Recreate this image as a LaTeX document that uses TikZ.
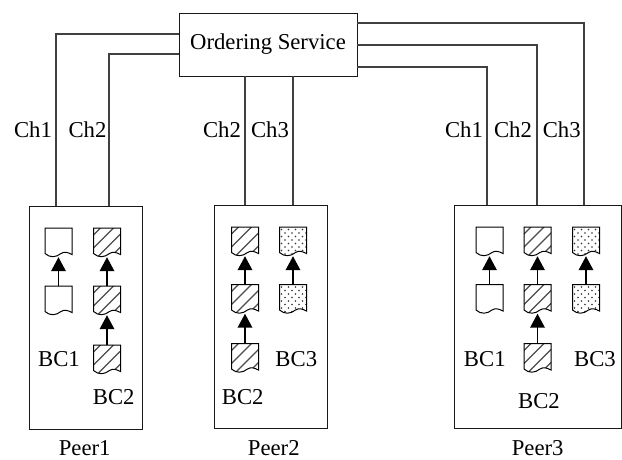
\documentclass[tikz,border=0pt]{standalone}
\usepackage{fontspec}
\setmainfont{Liberation Serif}
\usetikzlibrary{arrows.meta}
\definecolor{wirecol}{HTML}{404040}
\tikzset{
  lab/.style={anchor=base,inner sep=0pt,font=\fontsize{22.7}{24}\selectfont,text=black},
  wire/.style={draw=wirecol,line width=1.4pt},
  peerbox/.style={draw=black!90,line width=0.9pt,inner sep=0pt,rectangle},
  orderbox/.style={draw=black!90,line width=0.9pt,inner sep=0pt,rectangle,fill=white,font=\fontsize{22.7}{24}\selectfont},
  docbox/.style={inner sep=0pt,minimum width=27pt,minimum height=29pt,rectangle},
  link/.style={line width=1.9pt,-{Triangle[length=14pt,width=14.5pt]}},
  hatch/.style={line width=1.1pt,black!70},
  docline/.style={line width=1pt,black}
}
\newcommand{\docoutline}{(0,0) -- (27,0) -- (27,26.5) .. controls (22,24) and (19.5,23.5) .. (16,25.5) .. controls (11,29.5) and (5,30) .. (0,25.5) -- cycle}
% name, centre x, top y, kind (0 blank, 1 hatched, 2 dotted)
\newcommand{\mydoc}[4]{%
  \begin{scope}[shift={(#2-13.5,#3)}]
    \node[docbox] (#1) at (13.5,14.5) {};
    \fill[white] \docoutline;
    \begin{scope}
      \clip \docoutline;
      \ifcase#4\relax
      \or
        \foreach \c in {7,20,33,46} {\draw[hatch] (\c,0) -- (\c-31,31);}
      \or
        \foreach \r in {0,...,4} {
          \foreach \k in {0,...,4} {
            \fill[black!80] ({2+\k*7},{2.5+\r*7}) circle (0.9);
            \fill[black!80] ({5.5+\k*7},{6+\r*7}) circle (0.9);
          }
        }
      \fi
    \end{scope}
    \draw[docline] \docoutline;
  \end{scope}
}
\begin{document}
\begin{tikzpicture}[x=1pt,y=-1pt]
\useasboundingbox (0,0) rectangle (622,459);
% peers
\node[peerbox,minimum width=112.5pt,minimum height=223.5pt] (peer1) at (85.75,317.75) {};
\node[peerbox,minimum width=112.5pt,minimum height=223pt] (peer2) at (270.75,316.5) {};
\node[peerbox,minimum width=167pt,minimum height=223pt] (peer3) at (537.5,316.5) {};
% ordering service
\node[orderbox,minimum width=178pt,minimum height=63pt] (order) at (268,44.5) {Ordering Service};
% wires
\coordinate (a1) at (56,206); \coordinate (a2) at (109,206);
\coordinate (o1) at (179,34); \coordinate (o2) at (179,54);
\coordinate (b1) at (245,205); \coordinate (b2) at (293,205);
\coordinate (ob1) at (245,76); \coordinate (ob2) at (293,76);
\coordinate (c1) at (487,205); \coordinate (c2) at (537,205); \coordinate (c3) at (584,205);
\coordinate (r1) at (357,67); \coordinate (r2) at (357,45); \coordinate (r3) at (357,23);
\draw[wire] (o1) -| (a1);
\draw[wire] (o2) -| (a2);
\draw[wire] (ob1) -- (b1);
\draw[wire] (ob2) -- (b2);
\draw[wire] (r1) -| (c1);
\draw[wire] (r2) -| (c2);
\draw[wire] (r3) -| (c3);
% documents
\mydoc{pa1}{58.5}{228}{0}
\mydoc{pa2}{58.5}{286}{0}
\mydoc{pb1}{107}{228}{1}
\mydoc{pb2}{107}{286}{1}
\mydoc{pb3}{107}{345}{1}
\mydoc{qa1}{245}{227}{1}
\mydoc{qa2}{245}{284.5}{1}
\mydoc{qa3}{245}{343.5}{1}
\mydoc{qb1}{293}{227}{2}
\mydoc{qb2}{293}{284.5}{2}
\mydoc{ra1}{489.5}{227}{0}
\mydoc{ra2}{489.5}{284.5}{0}
\mydoc{rb1}{537.5}{227}{1}
\mydoc{rb2}{537.5}{284.5}{1}
\mydoc{rb3}{537.5}{343.5}{1}
\mydoc{rc1}{586}{227}{2}
\mydoc{rc2}{586}{284.5}{2}
% arrows
\draw[link] (pa2.north) -- (pa1.south);
\draw[link] (pb2.north) -- (pb1.south);
\draw[link] (pb3.north) -- (pb2.south);
\draw[link] (qa2.north) -- (qa1.south);
\draw[link] (qa3.north) -- (qa2.south);
\draw[link] (qb2.north) -- (qb1.south);
\draw[link] (ra2.north) -- (ra1.south);
\draw[link] (rb2.north) -- (rb1.south);
\draw[link] (rb3.north) -- (rb2.south);
\draw[link] (rc2.north) -- (rc1.south);
% labels
\node[lab] (l1) at (33,137.5) {Ch1};
\node[lab] (l2) at (87.5,137.5) {Ch2};
\node[lab] (l3) at (222,137.5) {Ch2};
\node[lab] (l4) at (270,137.5) {Ch3};
\node[lab] (l5) at (464,137) {Ch1};
\node[lab] (l6) at (513,137) {Ch2};
\node[lab] (l7) at (561.7,137) {Ch3};
\node[lab] (m1) at (59,366.5) {BC1};
\node[lab] (m2) at (113.7,404) {BC2};
\node[lab] (m3) at (242.7,404) {BC2};
\node[lab] (m4) at (296.3,366.5) {BC3};
\node[lab] (m5) at (484.8,366) {BC1};
\node[lab] (m6) at (595,366) {BC3};
\node[lab] (m7) at (539,408) {BC2};
\node[lab] (n1) at (84.7,455) {Peer1};
\node[lab] (n2) at (273.8,455) {Peer2};
\node[lab] (n3) at (537.7,455) {Peer3};
\end{tikzpicture}
\end{document}
